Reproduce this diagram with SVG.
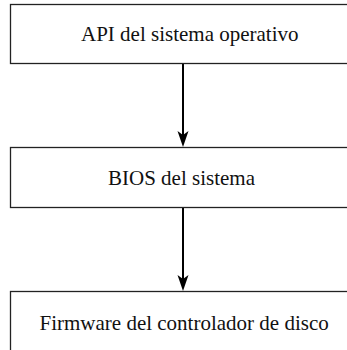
<svg xmlns="http://www.w3.org/2000/svg" width="347" height="350" viewBox="0 0 347 350">
<style>
.box{fill:#fff;stroke:#222;stroke-width:1.3}
.lbl{font-family:"Times New Roman","Liberation Serif",serif;font-size:21px;fill:#111}
.edge{stroke:#000;stroke-width:2;fill:none}
.head{fill:#000;stroke:none}
</style>
<rect width="347" height="350" fill="#fff"/>
<g id="connectors">
<line class="edge" x1="183" y1="64" x2="183" y2="136"/>
<path class="head" d="M183,147 L177.5,131 L183,135 L188.5,131 Z"/>
<line class="edge" x1="183" y1="208" x2="183" y2="280"/>
<path class="head" d="M183,291 L177.5,275 L183,279 L188.5,275 Z"/>
</g>
<g id="node-api">
<rect class="box" x="10.5" y="4.5" width="370" height="59"/>
<text class="lbl" x="81" y="41">API del sistema operativo</text>
</g>
<g id="node-bios">
<rect class="box" x="10.5" y="147.5" width="370" height="60"/>
<text class="lbl" x="108" y="185">BIOS del sistema</text>
</g>
<g id="node-firmware">
<rect class="box" x="10.5" y="291.5" width="370" height="80"/>
<text class="lbl" x="39.5" y="330">Firmware del controlador de disco</text>
</g>
</svg>
